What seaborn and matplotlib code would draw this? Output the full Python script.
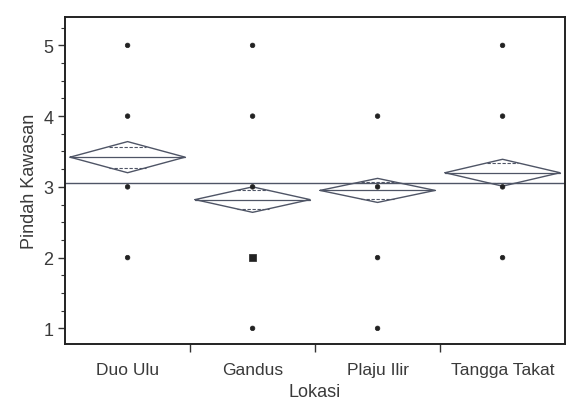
import matplotlib
matplotlib.use("Agg")
import matplotlib.pyplot as plt
import seaborn as sns
import pandas as pd
import numpy as np
from matplotlib.ticker import MultipleLocator, FixedLocator

sns.set_theme(style="white")
plt.rcParams['font.family'] = ['Liberation Sans', 'DejaVu Sans']

# ---- data ----
categories = ["Duo Ulu", "Gandus", "Plaju Ilir", "Tangga Takat"]
point_cat = ["Duo Ulu"] * 4 + ["Gandus"] * 5 + ["Plaju Ilir"] * 4 + ["Tangga Takat"] * 4
point_val = [5, 4, 3, 2,
             5, 4, 3, 2, 1,
             4, 3, 2, 1,
             5, 4, 3, 2]
point_mult = ["single"] * 7 + ["multiple"] + ["single"] * 9
group_mean = [3.42, 2.82, 2.95, 3.20]
group_ci = [0.22, 0.18, 0.17, 0.19]      # half-height of diamond
group_overlap = [0.15, 0.13, 0.12, 0.14]  # overlap marks
grand_mean = 3.05
y_ticks = [1, 2, 3, 4, 5]

line_col = "#4f5566"
txt_col = "#3a3a3a"

fig = plt.figure(figsize=(5.76, 4.02), dpi=100)
ax = fig.add_axes([0.113, 0.142, 0.868, 0.813])

df = pd.DataFrame({"Lokasi": point_cat, "val": point_val, "mult": point_mult})
df["x"] = df["Lokasi"].map({c: i for i, c in enumerate(categories)})

# grand mean line
ax.axhline(grand_mean, color=line_col, lw=1.0, zorder=1)

# means diamonds
for i, (m, ci, ov) in enumerate(zip(group_mean, group_ci, group_overlap)):
    hw = 0.46
    xs = [i - hw, i, i + hw, i, i - hw]
    ys = [m, m + ci, m, m - ci, m]
    ax.plot(xs, ys, color=line_col, lw=1.0, zorder=2)
    ax.plot([i - hw, i + hw], [m, m], color=line_col, lw=0.9, zorder=2)
    # overlap marks
    frac = 1 - ov / ci
    for s in (1, -1):
        ax.plot([i - hw * frac, i + hw * frac], [m + s * ov, m + s * ov],
                color=line_col, lw=0.8, ls=(0, (3, 1.5)), zorder=2)

sns.scatterplot(data=df, x="x", y="val", style="mult",
                markers={"single": "o", "multiple": "s"},
                size="mult", sizes={"single": 11, "multiple": 24},
                color="#222222", edgecolor="#222222", linewidth=0.5,
                legend=False, ax=ax, zorder=3)

ax.set_xlim(-0.5, len(categories) - 0.5)
ax.set_ylim(0.78, 5.4)
ax.set_xticks(range(len(categories)))
ax.set_xticklabels(categories, fontsize=12.5, color=txt_col)
ax.xaxis.set_minor_locator(FixedLocator([0.5, 1.5, 2.5]))
ax.tick_params(axis="x", which="major", length=0, pad=13)
ax.tick_params(axis="x", which="minor", length=6, width=1, color="#333333",
               direction="out", bottom=True)

ax.set_yticks(y_ticks)
ax.yaxis.set_minor_locator(MultipleLocator(0.25))
ax.tick_params(axis="y", which="major", length=5, width=1, color="#333333",
               labelsize=13, left=True, labelcolor=txt_col)
ax.tick_params(axis="y", which="minor", length=3, width=0.8, color="#333333",
               left=True)

ax.set_xlabel("Lokasi", fontsize=13, color=txt_col, labelpad=4)
ax.set_ylabel("Pindah Kawasan", fontsize=13, color=txt_col, labelpad=4)

for sp in ax.spines.values():
    sp.set_color("#222222")
    sp.set_linewidth(1.4)

fig.savefig("out.png", dpi=100)
